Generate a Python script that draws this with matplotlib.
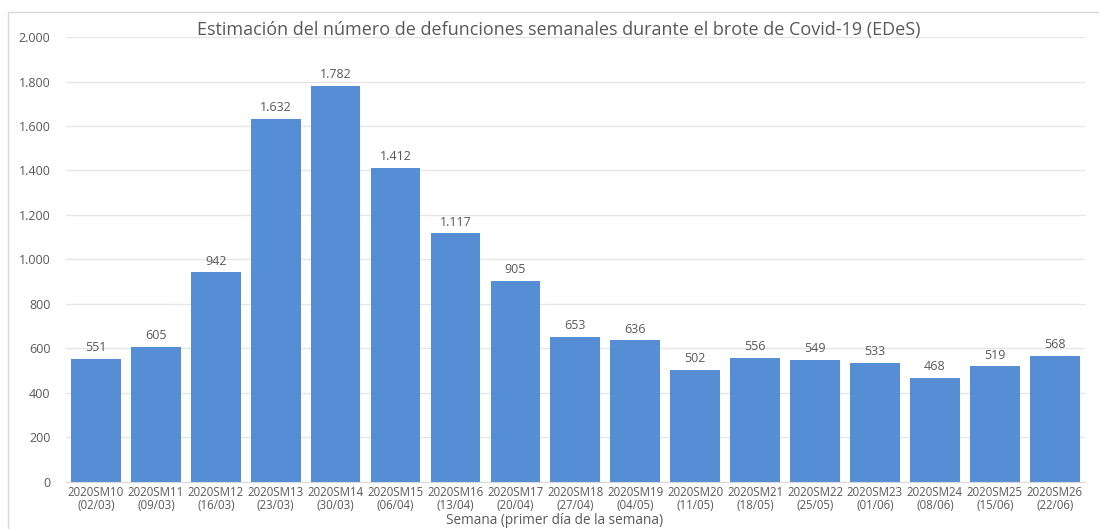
import matplotlib.pyplot as plt
from matplotlib.patches import Rectangle
from matplotlib.ticker import FuncFormatter

weeks = ["2020SM10", "2020SM11", "2020SM12", "2020SM13", "2020SM14", "2020SM15",
         "2020SM16", "2020SM17", "2020SM18", "2020SM19", "2020SM20", "2020SM21",
         "2020SM22", "2020SM23", "2020SM24", "2020SM25", "2020SM26"]
start_days = ["02/03", "09/03", "16/03", "23/03", "30/03", "06/04", "13/04", "20/04",
              "27/04", "04/05", "11/05", "18/05", "25/05", "01/06", "08/06", "15/06", "22/06"]
deaths = [551, 605, 942, 1632, 1782, 1412, 1117, 905, 653, 636, 502, 556, 549, 533, 468, 519, 568]

plt.rcParams['font.family'] = ['Open Sans', 'DejaVu Sans']
text_col = "#595959"
bar_col = "#558ED5"


def thousands(v, pos=None):
    return "{:,.0f}".format(v).replace(",", ".")


fig = plt.figure(figsize=(10.99, 5.29), dpi=100)
ax = fig.add_axes([0.060, 0.089, 0.927, 0.841])

x = range(len(weeks))
ax.bar(x, deaths, width=0.83, color=bar_col, zorder=2)
for xi, v in zip(x, deaths):
    ax.annotate(thousands(v), (xi, v), xytext=(0, 3.5), textcoords="offset points",
                ha="center", va="bottom", fontsize=9, color=text_col)

ax.set_xlim(-0.5, len(weeks) - 0.5)
ax.set_ylim(0, 2000)
ax.set_yticks(range(0, 2001, 200))
ax.yaxis.set_major_formatter(FuncFormatter(thousands))
ax.set_xticks(list(x))
ax.set_xticklabels(["{}\n({})".format(w, d) for w, d in zip(weeks, start_days)],
                   fontsize=8.3, color=text_col, linespacing=0.95)
ax.tick_params(axis="y", length=0, labelsize=9, labelcolor=text_col, pad=11)
ax.tick_params(axis="x", length=0, pad=3)
ax.grid(axis="y", color="#e6e6e6", linewidth=1, zorder=0)
for s in ["top", "right", "left"]:
    ax.spines[s].set_visible(False)
ax.spines["bottom"].set_color("#d9d9d9")

fig.text(0.505, 0.017, "Semana (primer día de la semana)", ha="center", va="center",
         fontsize=9.8, color=text_col)
fig.text(0.508, 0.943, "Estimación del número de defunciones semanales durante el brote de Covid-19 (EDeS)",
         ha="center", va="center", fontsize=13, color=text_col)

fig.patches.append(Rectangle((0.0073, -0.05), 1.0, 1.027, transform=fig.transFigure,
                             fill=False, edgecolor="#d9d9d9", linewidth=1))

plt.savefig("out.png", dpi=100)
